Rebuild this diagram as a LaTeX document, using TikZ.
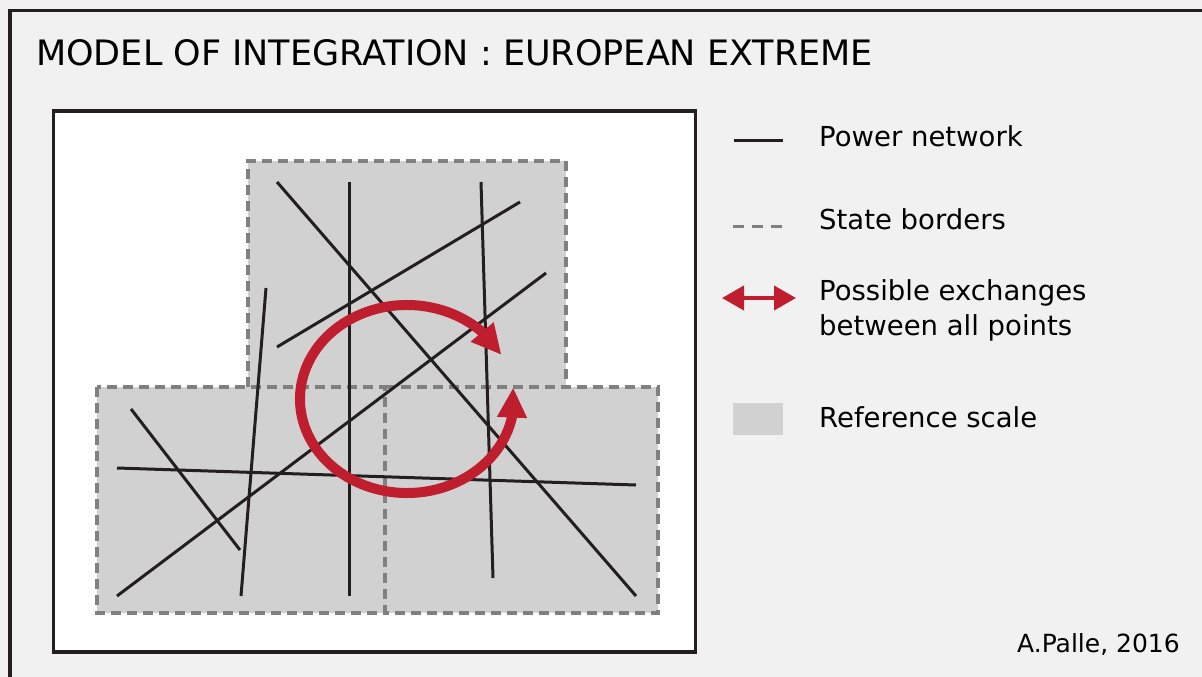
\documentclass[tikz,border=0pt]{standalone}
\usepackage{fontspec}
\setmainfont{DejaVu Sans}
\usetikzlibrary{arrows.meta,bending}
\definecolor{bgcol}{HTML}{F1F1F1}
\definecolor{framecol}{HTML}{231F20}
\definecolor{scalecol}{HTML}{D1D1D1}
\definecolor{bordercol}{HTML}{808080}
\definecolor{exchcol}{HTML}{BE1E2D}

\begin{document}
\begin{tikzpicture}[x=1pt,y=-1pt,
    boxline/.style={draw=framecol,line width=3.2pt},
    powerline/.style={framecol,line width=3pt},
    stateborder/.style={bordercol,line width=3.6pt,dash pattern=on 10pt off 6pt},
    exch/.style={exchcol,line width=10pt,{Triangle[length=30pt,width=28pt]}-{Triangle[length=30pt,width=28pt]}},
    legtext/.style={anchor=base west,inner sep=0pt,font=\fontsize{27.5}{35}\selectfont,align=left}]
    \useasboundingbox (0,0) rectangle (1202,677);
    \fill[bgcol] (0,0) rectangle (1202,677);
    \draw[boxline] (10,700) -- (10,10.5) -- (1230,10.5);
    \node[anchor=base west,inner sep=0pt,font=\fontsize{35}{42}\selectfont] (title) at (36,66) {MODEL OF INTEGRATION : EUROPEAN EXTREME};
    \draw[boxline,fill=white] (53.5,111) rectangle (695.5,652);
    \fill[scalecol] (248,161) rectangle (566,387);
    \fill[scalecol] (97,387) rectangle (658,613);
    \draw[stateborder] (248,387) -- (248,161) -- (566,161) -- (566,387);
    \draw[stateborder] (97,387) rectangle (385,613);
    \draw[stateborder] (385,387) -- (658,387) -- (658,613) -- (385,613);
    \draw[powerline] (277,182) -- (636,596);
    \draw[powerline] (349,182) -- (349,596);
    \draw[powerline] (481,182) -- (493,578);
    \draw[powerline] (277,347) -- (520,202);
    \draw[powerline] (117,596) -- (546,273);
    \draw[powerline] (266,288) -- (241,596);
    \draw[powerline] (131,409) -- (240,550);
    \draw[powerline] (117,468) -- (636,485);
    \coordinate (ctr) at (407,399);
    \draw[exch] ([shift={(28:107pt and 94pt)}]ctr) arc[start angle=28,end angle=367,x radius=107pt,y radius=94pt];
    \draw[powerline] (734,140) -- (783,140);
    \node[legtext] (pnet) at (819,146) {Power network};
    \draw[stateborder,line width=3pt,dash pattern=on 11pt off 8pt] (733,226) -- (783,226);
    \node[legtext] (sbord) at (819,229) {State borders};
    \draw[exchcol,line width=4pt,{Triangle[length=22pt,width=24pt]}-{Triangle[length=22pt,width=24pt]}] (722,298) -- (796,298);
    \node[legtext] (pexch) at (819,335) {Possible exchanges\\between all points};
    \fill[scalecol] (733,403) rectangle (783,435);
    \node[legtext] (rscale) at (819,427) {Reference scale};
    \node[anchor=base east,inner sep=0pt,font=\fontsize{25}{30}\selectfont] (credit) at (1180,652) {A.Palle, 2016};
\end{tikzpicture}
\end{document}
